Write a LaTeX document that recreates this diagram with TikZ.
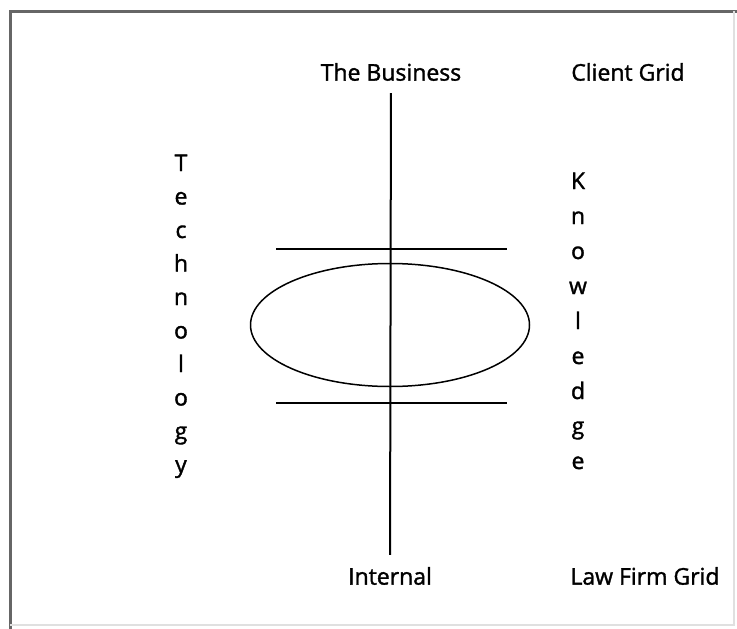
\documentclass[tikz,border=0pt]{standalone}
\usepackage{fontspec}
\setmainfont{Open Sans}[FakeBold=1.5]
\usetikzlibrary{shapes.geometric}
\usetikzlibrary{positioning}
\tikzstyle{etiquette}=[inner sep=12pt,font=\fontsize{23}{27}\selectfont]
\tikzstyle{lettre}=[inner sep=0pt,anchor=base,font=\fontsize{23}{27}\selectfont]
\tikzstyle{axe}=[line width=2pt,black]
\tikzstyle{zone}=[draw,ellipse,line width=1.5pt,minimum width=279pt,minimum height=123pt]
\tikzstyle{cadre}=[line width=3pt,black!60]
\begin{document}
\begin{tikzpicture}[x=1pt,y=-1pt]
\useasboundingbox (0,0) rectangle (737,629);
\draw[cadre] (10,629) -- (10,11) -- (737,11);
\draw[black!12,line width=1.5pt] (734,11) -- (734,625) -- (10,625);
\node[etiquette] (business) at (391,72) {The Business};
\node[etiquette] (client) at (628,72) {Client Grid};
\node[etiquette] (internal) at (390,576) {Internal};
\node[etiquette] (lawfirm) at (645,576) {Law Firm Grid};
\node[zone] (cercle) at (390,325) {};
%les deux barres
\coordinate (hautg) at (276,249);
\coordinate (hautd) at (507,249);
\coordinate (basg) at (276,403);
\coordinate (basd) at (507,403);
\draw[axe] (hautg) -- (hautd);
\draw[axe] (basg) -- (basd);
\draw[axe] (business) -- (internal);
%lettres
\foreach \l [count=\i from 0] in {T,e,c,h,n,o,l,o,g,y}
  \node[lettre] (tech\i) at (181,171+33.5*\i) {\l};
\foreach \l [count=\i from 0] in {K,n,o,w,l,e,d,g,e}
  \node[lettre] (know\i) at (578,189+35*\i) {\l};
\end{tikzpicture}
\end{document}
